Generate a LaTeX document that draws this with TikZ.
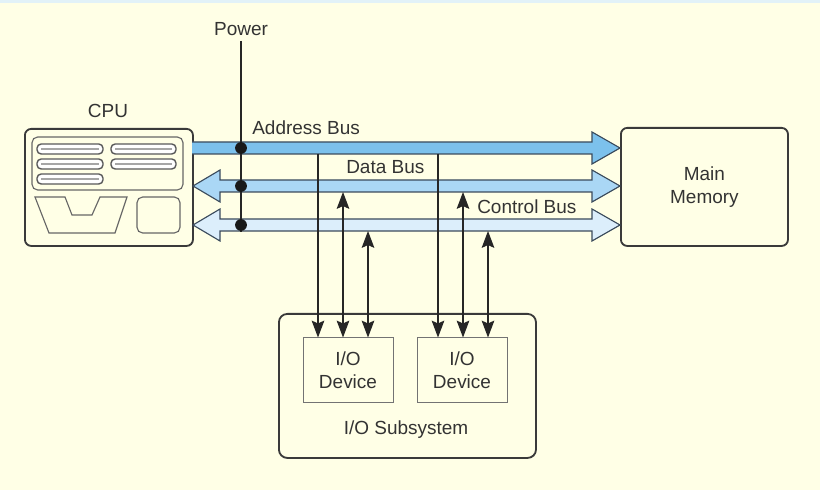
\documentclass[tikz,border=0pt]{standalone}
\usepackage{fontspec}
\setmainfont{Liberation Sans}
\usetikzlibrary{arrows.meta}
\definecolor{paper}{HTML}{FFFFE6}
\definecolor{strip}{HTML}{E2F2F8}
\definecolor{edge}{HTML}{3A3A3A}
\definecolor{addrblue}{HTML}{7CC1EC}
\definecolor{datablue}{HTML}{AAD7F5}
\definecolor{ctrlblue}{HTML}{DCEEFB}
\definecolor{busline}{HTML}{3B4B5C}
\begin{document}
\begin{tikzpicture}[x=0.025cm,y=-0.025cm,
    box/.style={draw=edge,line width=1.3pt,rounded corners=4.5pt,inner sep=0pt},
    devbox/.style={draw=black!55,line width=0.7pt,inner sep=0pt,minimum width=2.25cm,minimum height=1.6cm,
      align=center,font=\fontsize{13.5}{16}\selectfont,text=black!80},
    part/.style={draw=black!60,line width=0.8pt},
    bar/.style={draw=black!65,fill=white,line width=1pt,rounded corners=3pt},
    bus/.style={draw=busline,line width=0.8pt,line join=miter},
    link/.style={line width=0.8pt,draw=black!85,-{Stealth[length=12pt,width=9pt,inset=2pt]}},
    twoway/.style={link,{Stealth[length=12pt,width=9pt,inset=2pt]}-{Stealth[length=12pt,width=9pt,inset=2pt]}},
    lbl/.style={font=\fontsize{13.5}{16}\selectfont,text=black!80,inner sep=0pt,align=center}]
            \fill[paper] (0,0) rectangle (820,490);
            \fill[strip] (0,0) rectangle (820,3);
            \useasboundingbox (0,0) rectangle (820,490);

            % boxes
            \node[box,anchor=north west,minimum width=4.2cm,minimum height=2.925cm] (cpu) at (24,128) {};
            \node[box,anchor=north west,minimum width=4.175cm,minimum height=2.95cm,lbl] (mem) at (620,127) {Main\\Memory};
            \node[box,anchor=north west,minimum width=6.425cm,minimum height=3.6cm,rounded corners=6pt] (iosys) at (278,313) {};
            \node[devbox] (dev1) at (348,370) {I/O\\Device};
            \node[devbox] (dev2) at (462,370) {I/O\\Device};

            \node[lbl] (cpulbl) at (108,111) {CPU};
            \node[lbl] (power) at (241,29) {Power};
            \node[lbl] (iolbl) at (406,430) {I/O Subsystem};

            % cpu inside
            \draw[part,rounded corners=4pt] (32,137) rectangle (183,190);
            \draw[bar] (37,144) rectangle (103,154);
            \draw[bar] (111,144) rectangle (176,154);
            \draw[bar] (37,159) rectangle (103,169);
            \draw[bar] (111,159) rectangle (176,169);
            \draw[bar] (37,174) rectangle (103,184);
            \draw[black!35,line width=1pt] (41,149) -- (99,149) (115,149) -- (172,149)
                (41,164) -- (99,164) (115,164) -- (172,164) (41,179) -- (99,179);
            \draw[part,line join=miter] (35,197) -- (65,197) -- (72,215) -- (92,215) -- (100,197)
                -- (127,197) -- (115,233) -- (49,233) -- cycle;
            \draw[part,rounded corners=4pt] (137,197) rectangle (180,233);

            % buses
            \draw[bus,fill=addrblue] (192,142) -- (592,142) -- (592,132) -- (620,148) -- (592,164) -- (592,154) -- (192,154);
            \draw[bus,fill=datablue] (193,186) -- (220,170) -- (220,180) -- (592,180) -- (592,170) -- (620,186)
                -- (592,202) -- (592,192) -- (220,192) -- (220,202) -- cycle;
            \draw[bus,fill=ctrlblue] (193,225) -- (220,209) -- (220,219) -- (592,219) -- (592,209) -- (620,225)
                -- (592,241) -- (592,231) -- (220,231) -- (220,241) -- cycle;

            \node[lbl,anchor=west] (addrlbl) at (252,128) {Address Bus};
            \node[lbl,anchor=west] (datalbl) at (346,167) {Data Bus};
            \node[lbl,anchor=west] (ctrllbl) at (477,207) {Control Bus};

            % taps
            \coordinate (a1) at (318,154);
            \coordinate (a2) at (438,154);
            \coordinate (d1) at (343,192);
            \coordinate (d2) at (463,192);
            \coordinate (c1) at (368,231);
            \coordinate (c2) at (488,231);
            \draw[link] (a1) -- (a1 |- dev1.north);
            \draw[link] (a2) -- (a2 |- dev2.north);
            \draw[twoway] (d1) -- (d1 |- dev1.north);
            \draw[twoway] (d2) -- (d2 |- dev2.north);
            \draw[twoway] (c1) -- (c1 |- dev1.north);
            \draw[twoway] (c2) -- (c2 |- dev2.north);

            % power
            \coordinate (pbot) at (241,232);
            \draw[line width=0.9pt,black!85] (power.south) ++(0,5) -- (pbot);
            \fill[black!90] (241,148) circle[radius=4.2pt];
            \fill[black!90] (241,186) circle[radius=4.2pt];
            \fill[black!90] (241,225) circle[radius=4.2pt];
        \end{tikzpicture}
\end{document}
